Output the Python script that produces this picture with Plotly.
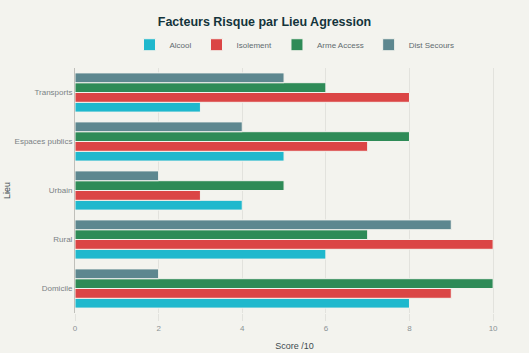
import plotly.graph_objects as go

lieux = ["Domicile", "Rural", "Urbain", "Espaces publics", "Transports"]
alcool = [8, 6, 4, 5, 3]
isolement = [9, 10, 3, 7, 8]
arme_access = [10, 7, 5, 8, 6]
dist_secours = [2, 9, 2, 4, 5]

series = [
    ("Alcool", alcool, "#1FB8CD"),
    ("Isolement", isolement, "#DB4545"),
    ("Arme Access", arme_access, "#2E8B57"),
    ("Dist Secours", dist_secours, "#5D878F"),
]

bg = "#F3F3EE"
fam = "Liberation Sans, Arial, sans-serif"
fig = go.Figure()
for name, vals, col in series:
    fig.add_trace(go.Bar(
        y=lieux, x=vals, name=name, orientation="h",
        marker=dict(color=col, line=dict(color=bg, width=1)),
    ))

fig.update_layout(
    width=529, height=353,
    paper_bgcolor=bg, plot_bgcolor=bg,
    barmode="group", bargap=0.2, bargroupgap=0,
    margin=dict(l=75, r=15, t=68, b=40, autoexpand=False),
    font=dict(family=fam, color="#5f6b6e", size=8),
    title=dict(text="<b>Facteurs Risque par Lieu Agression</b>", x=0.5, xanchor="center",
               y=0.94, yanchor="middle",
               font=dict(size=12.5, color="#13343B", family=fam)),
    legend=dict(orientation="h", x=0.5, xanchor="center", y=1.095, yanchor="middle",
                traceorder="normal", font=dict(size=8, color="#5f6b6e"),
                itemwidth=30, bgcolor="rgba(0,0,0,0)"),
    xaxis=dict(range=[0, 10.5], tickvals=[0, 2, 4, 6, 8, 10], showgrid=True,
               gridcolor="#E2E2DD", gridwidth=1, zeroline=False,
               ticks="outside", ticklen=7, tickcolor="#E2E2DD",
               tickfont=dict(size=8, color="#8a9295"), automargin=False,
               title=dict(text="Score /10", font=dict(size=9, color="#3d4a4e"), standoff=11)),
    yaxis=dict(showline=True, linecolor="#bfbfba", linewidth=1, showgrid=False,
               tickfont=dict(size=8, color="#7a8285"), ticks="", ticklen=0, automargin=True,
               title=dict(text="Lieu", font=dict(size=9, color="#3d4a4e"), standoff=2)),
)
fig.write_html("out.html")
